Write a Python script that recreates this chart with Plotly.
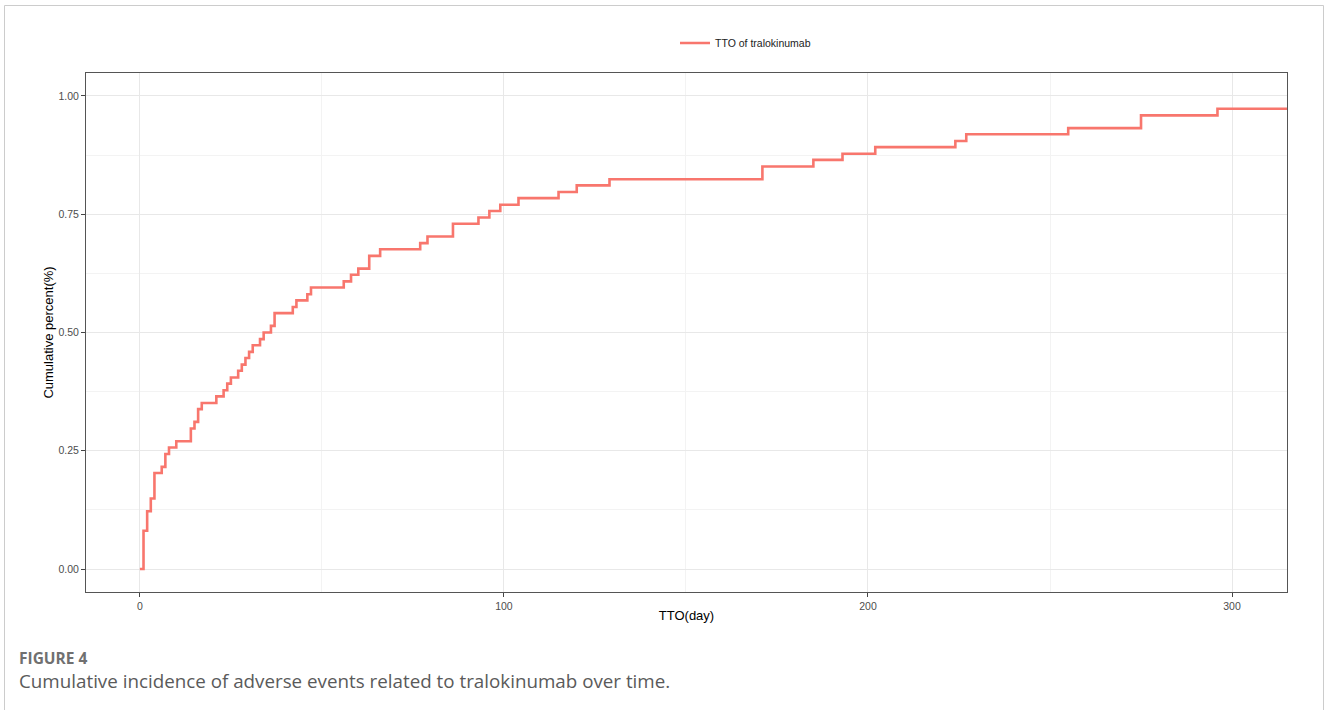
import plotly.graph_objects as go

# Data (time-to-onset in days, cumulative proportion)
days = [0, 1, 2, 3, 4, 6, 7, 8, 10, 14, 15, 16, 17, 21, 23, 24, 25, 27, 28, 29, 30, 31,
        33, 34, 36, 37, 42, 43, 46, 47, 56, 58, 60, 63, 66, 77, 79, 86, 93, 96, 99,
        104, 115, 120, 129, 171, 185, 193, 202, 224, 227, 255, 275, 296]
cum_pct = [0, 0.081, 0.122, 0.149, 0.203, 0.216, 0.243, 0.257, 0.270, 0.297, 0.311, 0.338,
           0.351, 0.365, 0.378, 0.392, 0.405, 0.419, 0.432, 0.446, 0.459, 0.473, 0.486,
           0.500, 0.514, 0.541, 0.554, 0.568, 0.581, 0.595, 0.608, 0.622, 0.635, 0.662,
           0.676, 0.689, 0.703, 0.730, 0.743, 0.757, 0.770, 0.784, 0.797, 0.811, 0.824,
           0.851, 0.865, 0.878, 0.892, 0.905, 0.919, 0.932, 0.959, 0.973]
series_name = "TTO of tralokinumab"
x_ticks = [0, 100, 200, 300]
y_ticks = [0.0, 0.25, 0.5, 0.75, 1.0]
y_tick_labels = ["0.00", "0.25", "0.50", "0.75", "1.00"]

x_range = [-14.8, 315.1]
y_range = [-0.0486, 1.0486]

# extend the last step to the right edge of the panel
xs = days + [x_range[1] + 5]
ys = cum_pct + [cum_pct[-1]]

fig = go.Figure()
fig.add_trace(go.Scatter(
    x=xs, y=ys, mode="lines", line_shape="hv",
    line=dict(color="#F8766D", width=2.6),
    name=series_name, showlegend=True,
))

axis_font = dict(family="Liberation Sans, Arial, sans-serif", size=10.5, color="#4d4d4d")
title_font = dict(family="Liberation Sans, Arial, sans-serif", size=13, color="#000000")

fig.update_xaxes(
    range=x_range, tickvals=x_ticks, ticktext=[str(v) for v in x_ticks],
    showgrid=True, gridcolor="#e8e8e8", gridwidth=1,
    minor=dict(tickvals=[50, 150, 250], showgrid=True, gridcolor="#f3f3f3", gridwidth=1, ticks=""),
    zeroline=False, showline=True, mirror=True, linecolor="#555555", linewidth=1,
    ticks="outside", ticklen=4, tickcolor="#444444", tickwidth=1,
    tickfont=axis_font,
    title=dict(text="TTO(day)", font=title_font, standoff=0),
)
fig.update_yaxes(
    range=y_range, tickvals=y_ticks, ticktext=y_tick_labels,
    showgrid=True, gridcolor="#e8e8e8", gridwidth=1,
    minor=dict(tickvals=[0.125, 0.375, 0.625, 0.875], showgrid=True, gridcolor="#f3f3f3", gridwidth=1, ticks=""),
    zeroline=False, showline=True, mirror=True, linecolor="#555555", linewidth=1,
    ticks="outside", ticklen=4, tickcolor="#444444", tickwidth=1,
    tickfont=axis_font,
    title=dict(text="Cumulative percent(%)", font=title_font, standoff=1),
)

L, R, T, B = 86, 41, 73, 118
W, H = 1328, 710
pw, ph = W - L - R, H - T - B

def px_x(p):
    return (p - L) / pw

def px_y(p):
    return (H - B - p) / ph

fig.update_layout(
    width=W, height=H,
    margin=dict(l=L, r=R, t=T, b=B),
    paper_bgcolor="white", plot_bgcolor="white",
    legend=dict(orientation="h", x=px_x(675), xanchor="left", y=px_y(43), yanchor="middle",
                font=dict(family="Liberation Sans, Arial, sans-serif", size=10.5, color="#222222"),
                bgcolor="rgba(0,0,0,0)"),
    shapes=[dict(type="rect", xref="paper", yref="paper",
                 x0=px_x(4.5), x1=px_x(1323.5), y0=px_y(5.5), y1=px_y(720),
                 line=dict(color="#cccccc", width=1), fillcolor="rgba(0,0,0,0)", layer="below")],
    annotations=[
        dict(text="<b>FIGURE 4</b>", xref="paper", yref="paper", x=px_x(17), y=px_y(658),
             xanchor="left", yanchor="middle", showarrow=False,
             font=dict(family="Open Sans, sans-serif", size=15.5, color="#707070")),
        dict(text="Cumulative incidence of adverse events related to tralokinumab over time.",
             xref="paper", yref="paper", x=px_x(17), y=px_y(681),
             xanchor="left", yanchor="middle", showarrow=False,
             font=dict(family="Open Sans, sans-serif", size=18.8, color="#5a5a5a")),
    ],
)

fig.write_html("out.html", config={"displayModeBar": False},
               post_script="document.body.style.margin='0px';")
